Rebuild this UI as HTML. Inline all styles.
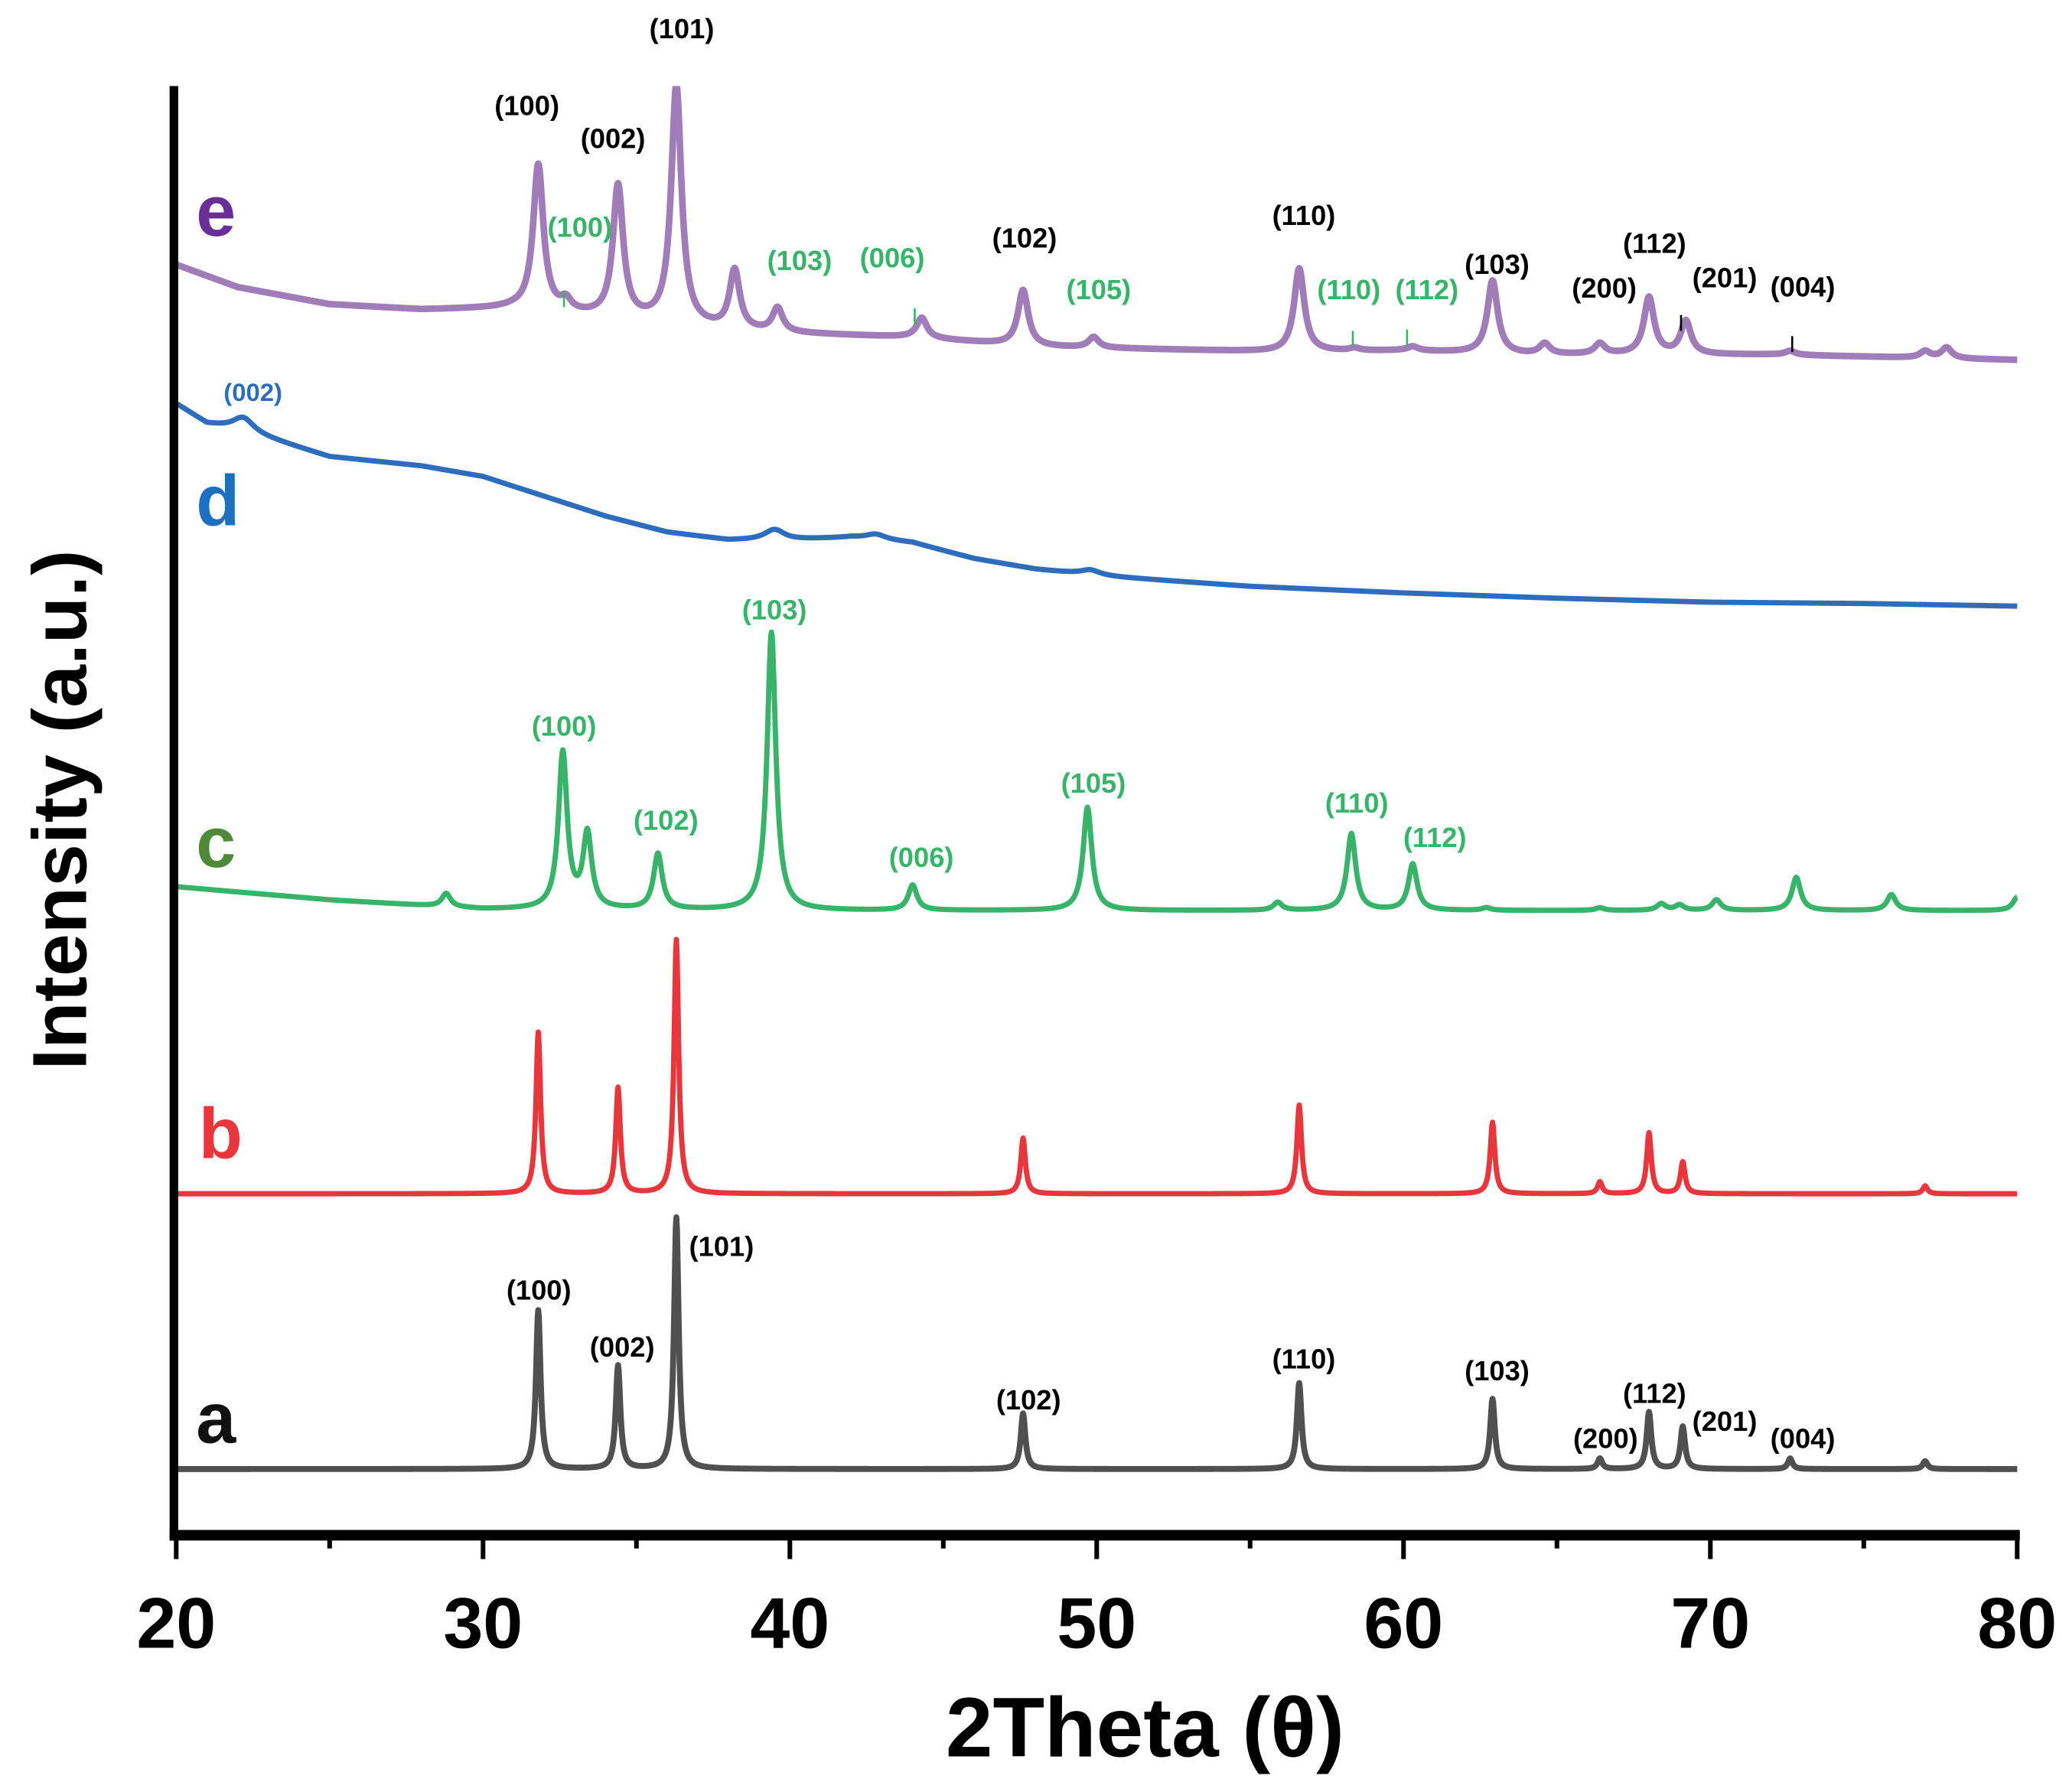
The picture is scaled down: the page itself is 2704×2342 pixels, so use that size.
<!DOCTYPE html>
<html><head><meta charset="utf-8"><style>
html,body{margin:0;padding:0;background:#fff}
svg{display:block}
text{font-family:"Liberation Sans",sans-serif;font-weight:bold}
</style></head><body>
<svg id="chart" width="2704" height="2342" viewBox="0 0 1563 1354" xmlns="http://www.w3.org/2000/svg">
<defs><clipPath id="plotclip"><rect x="131" y="65" width="1400" height="1095"/></clipPath></defs>
<g id="series" clip-path="url(#plotclip)"></g>
<g id="axes"></g>
<g id="labels"></g>
</svg>
<script>
// ---- data ----
const xTicks = [20,30,40,50,60,70,80];
const xMinorTicks = [25,35,45,55,65,75];
const aPeakPos = [31.8,34.4,36.3,47.6,56.6,62.9,66.4,68.0,69.1,72.6,77.0];
const aPeakAmp = [120,78,190,42,65,53,8,43,32,8,6];
const aBaseX = [20,80];
const aBaseY = [50,50];
const bPeakPos = [31.8,34.4,36.3,47.6,56.6,62.9,66.4,68.0,69.1,77.0];
const bPeakAmp = [122,80,192,42,67,54,9,46,24,6];
const bBaseX = [20,80];
const bBaseY = [258,258];
const cPeakPos = [28.8,32.6,33.4,35.7,39.4,44.0,49.7,55.9,58.3,60.3,62.7,66.4,68.4,69.0,70.2,72.8,75.9,80.0];
const cPeakAmp = [10,118,56,42,210,19,78,6,58,35,2,2,5,4,8,25,12,10];
const cBaseX = [20,25,30,40,50,60,70,80];
const cBaseY = [490,480,473,472,472,472,472,472];
const dPeakPos = [22.2,39.5,42.8,49.8];
const dPeakAmp = [10,8,4,4];
const dBaseX = [20,21,22,25,28,30,32,34,36,38,40,42,44,46,48,50,55,60,65,70,75,80];
const dBaseY = [855,840,836,815,808,800,785,770,758,752,752,754,750,738,730,725,717,712,708,705,704,702];
const ePeakPos = [31.8,32.7,34.4,36.3,38.2,39.6,44.3,47.6,49.9,56.6,58.4,60.3,62.9,64.6,66.4,68.0,69.2,72.6,77.0,77.7];
const ePeakAmp = [110,8,100,180,45,18,15,42,8,63,2,3,55,8,8,43,25,3,5,8];
const eBaseX = [20,22,25,28,31,33,36,38,40,44,48,52,56,60,64,68,72,76,80];
const eBaseY = [960,943,930,926,927,922,915,910,908,905,898,896,894,895,892,892,892,890,888];

// ---- scales ----
const X0=133, X1=1524, Y0=1160;
function xs(v){return X0+(v-20)*(X1-X0)/60;}
function ys(v){return Y0-v;}
const NS="http://www.w3.org/2000/svg";
function mk(tag,attrs,parent){const e=document.createElementNS(NS,tag);for(const k in attrs)e.setAttribute(k,attrs[k]);parent.appendChild(e);return e;}
function interp(xa,ya,x){if(x<=xa[0])return ya[0];for(let i=1;i<xa.length;i++){if(x<=xa[i]){const t=(x-xa[i-1])/(xa[i]-xa[i-1]);return ya[i-1]+t*(ya[i]-ya[i-1]);}}return ya[ya.length-1];}
const series=document.getElementById('series');
function drawSeries(name,bx,by,pp,pa,w,color,sw){
  let d='';
  for(let x=20;x<=80.0001;x+=0.02){
    let v=interp(bx,by,x);
    for(let i=0;i<pp.length;i++){const u=(x-pp[i])/w;v+=pa[i]/(1+u*u);}
    d+=(d?'L':'M')+xs(x).toFixed(2)+' '+ys(v).toFixed(2);
  }
  const p=mk('path',{d:d,fill:'none',stroke:color,'stroke-width':sw,'stroke-linejoin':'round'},series);
  
  
}
drawSeries('series-a-line',aBaseX,aBaseY,aPeakPos,aPeakAmp,0.09,'#505050',4.5);
drawSeries('series-b-line',bBaseX,bBaseY,bPeakPos,bPeakAmp,0.09,'#e8373c',4);
drawSeries('series-c-line',cBaseX,cBaseY,cPeakPos,cPeakAmp,0.17,'#3ab36a',4);
drawSeries('series-d-line',dBaseX,dBaseY,dPeakPos,dPeakAmp,0.4,'#2e6cbc',4);
drawSeries('series-e-line',eBaseX,eBaseY,ePeakPos,ePeakAmp,0.2,'#a07cb8',5);

// ---- axes ----
const axes=document.getElementById('axes');
let el;
el=mk('rect',{x:128,y:65,width:6.5,height:1099,fill:'#000'},axes);


el=mk('rect',{x:128,y:1156,width:1398,height:8,fill:'#000'},axes);


xTicks.forEach(t=>{
  const l=mk('line',{x1:xs(t),x2:xs(t),y1:1160,y2:1178,stroke:'#000','stroke-width':3.5},axes);
  
  
  const tx=mk('text',{x:xs(t),y:1245,'text-anchor':'middle','font-size':54},axes);
  tx.textContent=t;
  
  
});
xMinorTicks.forEach(t=>{
  const l=mk('line',{x1:xs(t),x2:xs(t),y1:1160,y2:1170,stroke:'#000','stroke-width':3.5},axes);
  
  
});
</script>
<svg style="position:absolute;left:0;top:0" width="2704" height="2342" viewBox="0 0 1563 1354" xmlns="http://www.w3.org/2000/svg">
<text x="865" y="1327" text-anchor="middle" font-size="64">2Theta (θ)</text>
<text transform="translate(65,612) rotate(-90)" text-anchor="middle" font-size="58">Intensity (a.u.)</text>
<g font-size="54">
<text x="148" y="178" fill="#6a2f96">e</text>
<text x="148" y="397" fill="#1e6fbf">d</text>
<text x="148" y="655" fill="#4e8a3a">c</text>
<text x="150" y="875" fill="#e8373c">b</text>
<text x="148" y="1090" fill="#111">a</text>
</g>
<g font-size="21" text-anchor="middle" fill="#000">
<text x="407" y="982">(100)</text><text x="470" y="1025">(002)</text><text x="545" y="949">(101)</text>
<text x="777" y="1065">(102)</text><text x="985" y="1034">(110)</text><text x="1131" y="1043">(103)</text>
<text x="1213" y="1094">(200)</text><text x="1250" y="1060">(112)</text><text x="1303" y="1081">(201)</text><text x="1362" y="1094">(004)</text>
</g>
<g font-size="21" text-anchor="middle" fill="#3ab36a">
<text x="426" y="556">(100)</text><text x="503" y="627">(102)</text><text x="585" y="468">(103)</text>
<text x="696" y="655">(006)</text><text x="826" y="599">(105)</text><text x="1025" y="614">(110)</text><text x="1084" y="640">(112)</text>
</g>
<text x="191" y="303" font-size="19" text-anchor="middle" fill="#2e6cbc">(002)</text>
<g font-size="21" text-anchor="middle" fill="#000">
<text x="515" y="29">(101)</text><text x="398" y="87">(100)</text><text x="463" y="112">(002)</text>
<text x="774" y="187">(102)</text><text x="985" y="170">(110)</text><text x="1131" y="207">(103)</text>
<text x="1212" y="225">(200)</text><text x="1250" y="191">(112)</text><text x="1303" y="217">(201)</text><text x="1362" y="224">(004)</text>
</g>
<g font-size="21" text-anchor="middle" fill="#3ab36a">
<text x="438" y="179">(100)</text><text x="604" y="204">(103)</text><text x="674" y="202">(006)</text>
<text x="830" y="226">(105)</text><text x="1019" y="226">(110)</text><text x="1078" y="226">(112)</text>
</g>
<g stroke-width="1.5">
<line x1="426" x2="426" y1="220" y2="232" stroke="#3ab36a"/>
<line x1="691" x2="691" y1="233" y2="245" stroke="#3ab36a"/>
<line x1="1022" x2="1022" y1="250" y2="262" stroke="#3ab36a"/>
<line x1="1063" x2="1063" y1="249" y2="261" stroke="#3ab36a"/>
<line x1="1270" x2="1270" y1="238" y2="250" stroke="#000"/>
<line x1="1354" x2="1354" y1="254" y2="266" stroke="#000"/>
</g>
</svg>
</body></html>
